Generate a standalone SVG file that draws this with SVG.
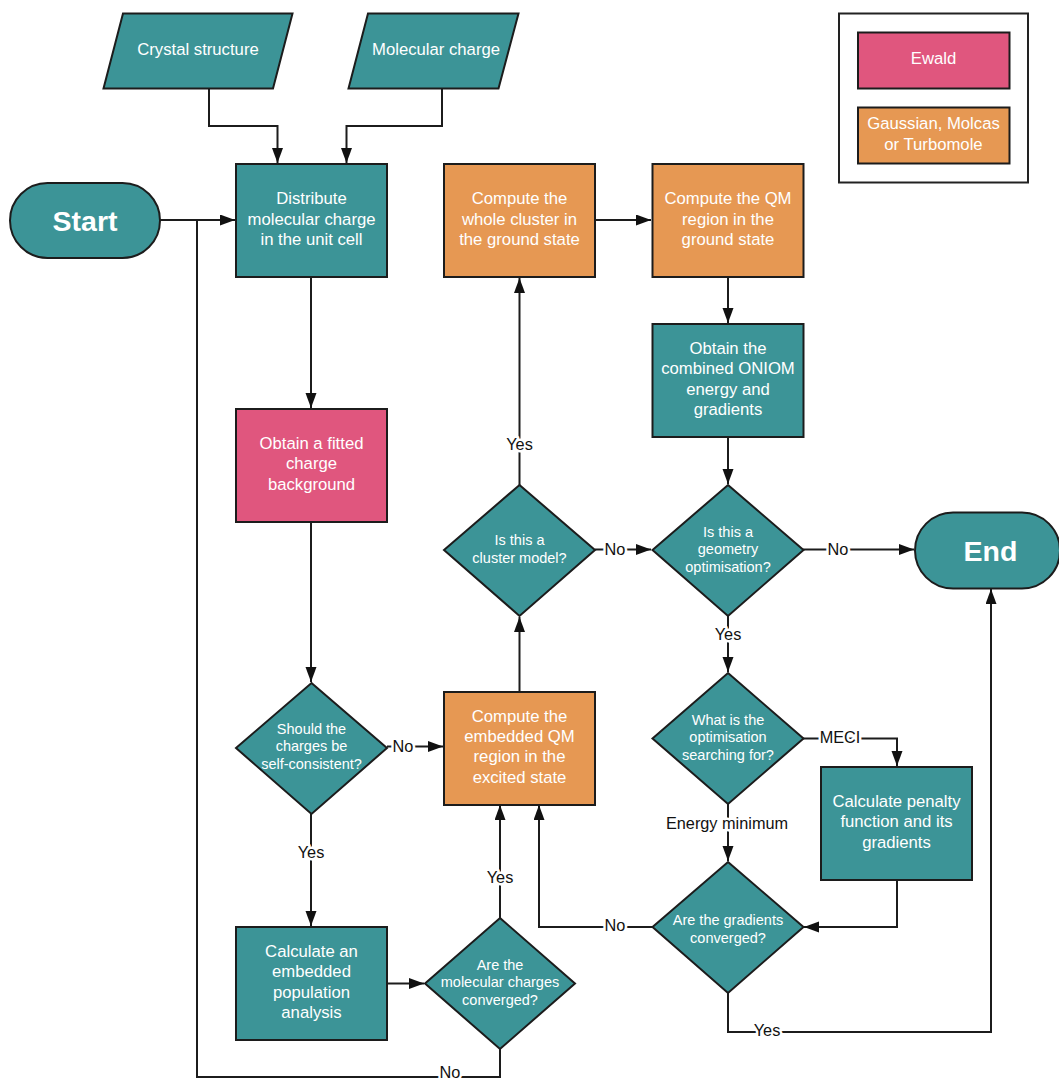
<svg xmlns="http://www.w3.org/2000/svg" width="1059" height="1080" viewBox="0 0 1059 1080">
<defs>
<style>
.teal{fill:#3c9497;stroke:#1c1c1c;stroke-width:2}
.orange{fill:#e69853;stroke:#1c1c1c;stroke-width:2}
.pink{fill:#e0567e;stroke:#1c1c1c;stroke-width:2}
.bt{font-family:"Liberation Sans",Arial,sans-serif;font-size:16.7px;fill:#fff;text-anchor:middle;dominant-baseline:central}
.dt{font-family:"Liberation Sans",Arial,sans-serif;font-size:14.5px;fill:#fff;text-anchor:middle;dominant-baseline:central}
.term{font-family:"Liberation Sans",Arial,sans-serif;font-size:28.5px;font-weight:bold;fill:#fff;text-anchor:middle;dominant-baseline:central}
.lbl{font-family:"Liberation Sans",Arial,sans-serif;font-size:16.3px;fill:#111;text-anchor:middle;dominant-baseline:central;stroke:#fff;stroke-width:5px;paint-order:stroke;stroke-linejoin:round}
.con{fill:none;stroke:#1c1c1c;stroke-width:2}
</style>
<marker id="arr" markerUnits="userSpaceOnUse" markerWidth="16" markerHeight="12" refX="15" refY="5.5" orient="auto">
<path d="M0,0 L15,5.5 L0,11 z" fill="#111"/>
</marker>
</defs>
<rect width="1059" height="1080" fill="#fff"/>

<g id="connectors">
<path class="con" d="M160,220 H235" marker-end="url(#arr)"/>
<path class="con" d="M500,1049 V1077 H197 V220"/>
<path class="con" d="M209,88 V126 H277.5 V163" marker-end="url(#arr)"/>
<path class="con" d="M442,88 V126 H346.5 V163" marker-end="url(#arr)"/>
<path class="con" d="M311,277 V408" marker-end="url(#arr)"/>
<path class="con" d="M311,522 V682" marker-end="url(#arr)"/>
<path class="con" d="M387,746.5 H443" marker-end="url(#arr)"/>
<path class="con" d="M311,814 V926" marker-end="url(#arr)"/>
<path class="con" d="M387,983.5 H424" marker-end="url(#arr)"/>
<path class="con" d="M500,918 V805" marker-end="url(#arr)"/>
<path class="con" d="M519.5,692 V617" marker-end="url(#arr)"/>
<path class="con" d="M519.5,485 V278" marker-end="url(#arr)"/>
<path class="con" d="M595,549.5 H651" marker-end="url(#arr)"/>
<path class="con" d="M595,220 H651" marker-end="url(#arr)"/>
<path class="con" d="M728,277 V323" marker-end="url(#arr)"/>
<path class="con" d="M728,437 V484" marker-end="url(#arr)"/>
<path class="con" d="M803,549.5 H914" marker-end="url(#arr)"/>
<path class="con" d="M728,616 V672" marker-end="url(#arr)"/>
<path class="con" d="M803,738.5 H897 V766" marker-end="url(#arr)"/>
<path class="con" d="M728,804 V861" marker-end="url(#arr)"/>
<path class="con" d="M897,880 V927 H804" marker-end="url(#arr)"/>
<path class="con" d="M652,927 H539 V805" marker-end="url(#arr)"/>
<path class="con" d="M728,993 V1032 H991 V589" marker-end="url(#arr)"/>
<g id="labels">
<text class="lbl" x="450" y="1072">No</text>
<text class="lbl" x="403" y="746">No</text>
<text class="lbl" x="311" y="852">Yes</text>
<text class="lbl" x="500" y="877">Yes</text>
<text class="lbl" x="519.5" y="444">Yes</text>
<text class="lbl" x="615" y="549">No</text>
<text class="lbl" x="838" y="549">No</text>
<text class="lbl" x="728" y="634">Yes</text>
<text class="lbl" x="840" y="737">MECI</text>
<text class="lbl" x="727" y="823">Energy minimum</text>
<text class="lbl" x="615" y="925">No</text>
<text class="lbl" x="767" y="1030">Yes</text>
</g>
</g>

<g id="legend">
<rect x="839" y="13.5" width="189" height="169" fill="#fff" stroke="#222" stroke-width="2"/>
<g id="legend-ewald">
<rect class="pink" x="858" y="32.5" width="151.5" height="56"/>
<text class="bt" x="933.5" y="58">Ewald</text>
</g>
<g id="legend-gaussian">
<rect class="orange" x="858" y="107.5" width="151.5" height="56"/>
<text class="bt" x="933.5" y="123.5">Gaussian, Molcas</text>
<text class="bt" x="933.5" y="144">or Turbomole</text>
</g>
</g>

<g id="crystal">
<polygon class="teal" points="123,13.5 292.5,13.5 273,88.5 103.5,88.5"/>
<text class="bt" x="198" y="49">Crystal structure</text>
</g>
<g id="molcharge">
<polygon class="teal" points="368,13.5 518.5,13.5 498.5,88.5 348.5,88.5"/>
<text class="bt" x="436" y="49">Molecular charge</text>
</g>

<g id="start">
<rect class="teal" x="10" y="183" width="150" height="75" rx="37.5"/>
<text class="term" x="85" y="221">Start</text>
</g>

<g id="distribute">
<rect class="teal" x="236" y="164" width="151" height="113"/>
<text class="bt" x="311.5" y="198.5">Distribute</text>
<text class="bt" x="311.5" y="219">molecular charge</text>
<text class="bt" x="311.5" y="239.5">in the unit cell</text>
</g>

<g id="wholecluster">
<rect class="orange" x="444" y="164" width="151" height="113"/>
<text class="bt" x="519.5" y="198.5">Compute the</text>
<text class="bt" x="519.5" y="219">whole cluster in</text>
<text class="bt" x="519.5" y="239.5">the ground state</text>
</g>

<g id="qmground">
<rect class="orange" x="652.5" y="164" width="151" height="113"/>
<text class="bt" x="728" y="198.5">Compute the QM</text>
<text class="bt" x="728" y="219">region in the</text>
<text class="bt" x="728" y="239.5">ground state</text>
</g>

<g id="oniom">
<rect class="teal" x="652.5" y="324" width="151" height="113"/>
<text class="bt" x="728" y="348.5">Obtain the</text>
<text class="bt" x="728" y="368.8">combined ONIOM</text>
<text class="bt" x="728" y="389">energy and</text>
<text class="bt" x="728" y="409.3">gradients</text>
</g>

<g id="fitted">
<rect class="pink" x="236" y="409" width="151" height="113"/>
<text class="bt" x="311.5" y="443.5">Obtain a fitted</text>
<text class="bt" x="311.5" y="463.8">charge</text>
<text class="bt" x="311.5" y="484">background</text>
</g>

<g id="clusterq">
<polygon class="teal" points="519.5,485 595,550 519.5,616 444,550"/>
<text class="dt" x="519.5" y="540">Is this a</text>
<text class="dt" x="519.5" y="558">cluster model?</text>
</g>

<g id="geomq">
<polygon class="teal" points="728,485 803.5,550 728,616 652.5,550"/>
<text class="dt" x="728" y="531.5">Is this a</text>
<text class="dt" x="728" y="549.2">geometry</text>
<text class="dt" x="728" y="567">optimisation?</text>
</g>

<g id="end">
<rect class="teal" x="915" y="512.5" width="145" height="76" rx="38"/>
<text class="term" x="990.5" y="550.5">End</text>
</g>

<g id="selfq">
<polygon class="teal" points="311.5,683 387,748 311.5,814 236,748"/>
<text class="dt" x="311.5" y="728.5">Should the</text>
<text class="dt" x="311.5" y="746.2">charges be</text>
<text class="dt" x="311.5" y="764">self-consistent?</text>
</g>

<g id="excited">
<rect class="orange" x="444" y="692" width="151" height="113"/>
<text class="bt" x="519.5" y="716">Compute the</text>
<text class="bt" x="519.5" y="736.3">embedded QM</text>
<text class="bt" x="519.5" y="756.6">region in the</text>
<text class="bt" x="519.5" y="777">excited state</text>
</g>

<g id="whatq">
<polygon class="teal" points="728,673 803.5,738.5 728,804 652.5,738.5"/>
<text class="dt" x="728" y="719.5">What is the</text>
<text class="dt" x="728" y="737.2">optimisation</text>
<text class="dt" x="728" y="755">searching for?</text>
</g>

<g id="penalty">
<rect class="teal" x="821" y="767" width="151" height="113"/>
<text class="bt" x="896.5" y="801.5">Calculate penalty</text>
<text class="bt" x="896.5" y="821.8">function and its</text>
<text class="bt" x="896.5" y="842">gradients</text>
</g>

<g id="gradq">
<polygon class="teal" points="728,862 803.5,927 728,993 652.5,927"/>
<text class="dt" x="728" y="920">Are the gradients</text>
<text class="dt" x="728" y="938">converged?</text>
</g>

<g id="population">
<rect class="teal" x="236" y="927" width="151" height="113"/>
<text class="bt" x="311.5" y="951.5">Calculate an</text>
<text class="bt" x="311.5" y="971.8">embedded</text>
<text class="bt" x="311.5" y="992">population</text>
<text class="bt" x="311.5" y="1012.5">analysis</text>
</g>

<g id="molq">
<polygon class="teal" points="500,918 575,983.5 500,1049 425,983.5"/>
<text class="dt" x="500" y="964.5">Are the</text>
<text class="dt" x="500" y="982.2">molecular charges</text>
<text class="dt" x="500" y="1000">converged?</text>
</g>
</svg>
